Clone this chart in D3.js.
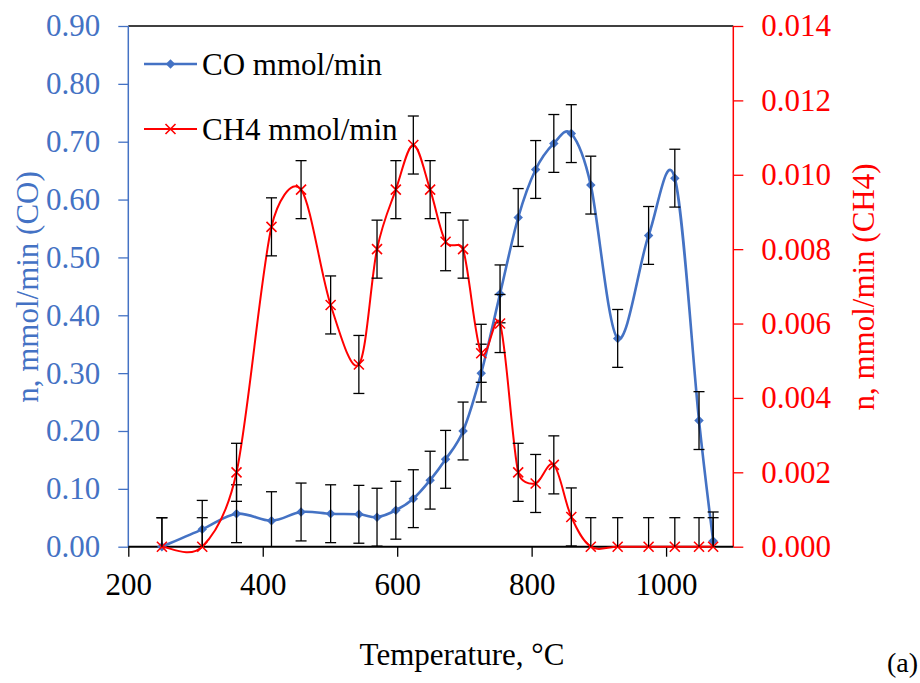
<!DOCTYPE html>
<meta charset="utf-8">
<style>
body { margin: 0; background: #fff; }
svg text { font-family: "Liberation Serif", "Times New Roman", Tinos, "DejaVu Serif", "Noto Serif", serif; }
</style>
<svg width="920" height="683"></svg>
<script src="https://d3js.org/d3.v7.min.js"></script>
<script>

// temperature, °C
var temps = [250, 310, 361, 413, 457, 501, 543, 570, 598, 624, 649, 672, 698,
             725, 753, 780, 806, 833, 859, 888, 928, 974, 1013, 1049, 1070];
// CO, mmol/min (left axis)
var co = [0.000, 0.030, 0.057, 0.045, 0.060, 0.057, 0.056, 0.051, 0.063, 0.083,
          0.115, 0.151, 0.200, 0.300, 0.437, 0.569, 0.652, 0.697, 0.714, 0.625,
          0.360, 0.538, 0.637, 0.218, 0.010];
// CH4, mmol/min (right axis)
var ch4 = [0.0000, 0.0000, 0.0020, 0.0086, 0.0096, 0.0065, 0.0049, 0.0080, 0.0096,
           0.0108, 0.0096, 0.0082, 0.0080, 0.0052, 0.0060, 0.0020, 0.0017, 0.0022,
           0.0008, 0.0000, 0.0000, 0.0000, 0.0000, 0.0000, 0.0000];
var coErr = 0.05;
var ch4Err = 0.00078;

var tempTicks = [200, 400, 600, 800, 1000];
var coTicks = [0, 0.1, 0.2, 0.3, 0.4, 0.5, 0.6, 0.7, 0.8, 0.9];
var ch4Ticks = [0, 0.002, 0.004, 0.006, 0.008, 0.010, 0.012, 0.014];

var blue = "#4472C4", red = "#FF0000";

var svg = d3.select("svg"),
    margin = {top: 26, right: 186.7, bottom: 136.3, left: 128.3},
    width = +svg.attr("width") - margin.left - margin.right,
    height = +svg.attr("height") - margin.top - margin.bottom;

var x = d3.scaleLinear().domain([200, 1100]).range([0, width]);
var yCO = d3.scaleLinear().domain([0, 0.9]).range([height, 0]);
var yCH4 = d3.scaleLinear().domain([0, 0.014]).range([height, 0]);

var g = svg.append("g")
    .attr("transform", "translate(" + margin.left + "," + margin.top + ")");

// frame top
g.append("line")
    .attr("x1", 0).attr("x2", width)
    .attr("y1", 0).attr("y2", 0)
    .attr("stroke", "#000").attr("stroke-width", 1.5);

// x axis
var xa = g.append("g")
    .attr("transform", "translate(0," + height + ")")
    .call(d3.axisBottom(x).tickValues(tempTicks).tickSize(10).tickPadding(16)
      .tickFormat(d3.format("d")));
xa.select(".domain").remove();
xa.selectAll(".tick line").attr("stroke", "#000").attr("stroke-width", 1.3);
xa.selectAll("text").attr("font-size", 31).attr("fill", "#000");

// left axis
var la = g.append("g")
    .call(d3.axisLeft(yCO).tickValues(coTicks).tickSize(10).tickPadding(18)
      .tickFormat(d3.format(".2f")));
la.select(".domain").remove();
la.selectAll(".tick line").attr("stroke", blue).attr("stroke-width", 1.3);
la.selectAll("text").attr("font-size", 31).attr("fill", blue);
g.append("line")
    .attr("x1", 0).attr("x2", 0).attr("y1", 0).attr("y2", height)
    .attr("stroke", blue).attr("stroke-width", 1.5);

// right axis
var ra = g.append("g")
    .attr("transform", "translate(" + width + ",0)")
    .call(d3.axisRight(yCH4).tickValues(ch4Ticks).tickSize(10).tickPadding(18)
      .tickFormat(d3.format(".3f")));
ra.select(".domain").remove();
ra.selectAll(".tick line").attr("stroke", red).attr("stroke-width", 1.3);
ra.selectAll("text").attr("font-size", 31).attr("fill", red);
g.append("line")
    .attr("x1", width).attr("x2", width).attr("y1", 0).attr("y2", height)
    .attr("stroke", red).attr("stroke-width", 1.5);

// zero line
g.append("line")
    .attr("x1", 0).attr("x2", width)
    .attr("y1", height).attr("y2", height)
    .attr("stroke", "#000").attr("stroke-width", 2);

var diamond = {
  draw: function(ctx, size) {
    var r = Math.sqrt(size) / 2;
    ctx.moveTo(0, -r); ctx.lineTo(r, 0); ctx.lineTo(0, r); ctx.lineTo(-r, 0); ctx.closePath();
  }
};
var cross = {
  draw: function(ctx, size) {
    var r = Math.sqrt(size) / 2;
    ctx.moveTo(-r, -r); ctx.lineTo(r, r); ctx.moveTo(-r, r); ctx.lineTo(r, -r);
  }
};

// smoothed line: catmull-rom style tangents (1/6 of neighbour chord),
// handle capped at half of the adjacent segment
function smoothPath(pts) {
  var p = d3.path(), n = pts.length;
  function dist(a, b) { return Math.hypot(b[0] - a[0], b[1] - a[1]); }
  function handle(i, j) {
    var a = pts[Math.max(0, i - 1)], b = pts[Math.min(n - 1, i + 1)],
        dx = b[0] - a[0], dy = b[1] - a[1], l = Math.hypot(dx, dy);
    if (!l) return [0, 0];
    var h = Math.min(l / 6, dist(pts[i], pts[j]) / 2);
    return [dx / l * h, dy / l * h];
  }
  p.moveTo(pts[0][0], pts[0][1]);
  for (var i = 0; i < n - 1; i++) {
    var a = pts[i], b = pts[i + 1],
        ha = handle(i, i + 1), hb = handle(i + 1, i);
    p.bezierCurveTo(a[0] + ha[0], a[1] + ha[1],
                    b[0] - hb[0], b[1] - hb[1],
                    b[0], b[1]);
  }
  return p.toString();
}

function errorBars(vals, err, y) {
  var eg = g.append("g").attr("stroke", "#000").attr("stroke-width", 1.3);
  vals.forEach(function(v, i) {
    var cx = x(temps[i]),
        top = y(v + err),
        bot = y(Math.max(0, v - err));
    eg.append("line").attr("x1", cx).attr("x2", cx).attr("y1", top).attr("y2", bot);
    eg.append("line").attr("x1", cx - 5.5).attr("x2", cx + 5.5).attr("y1", top).attr("y2", top);
    if (v - err > 0)
      eg.append("line").attr("x1", cx - 5.5).attr("x2", cx + 5.5).attr("y1", bot).attr("y2", bot);
  });
}

function series(vals, y, color, sw) {
  var pts = vals.map(function(d, i) { return [x(temps[i]), y(d)]; });
  g.append("path")
      .attr("fill", "none")
      .attr("stroke", color)
      .attr("stroke-width", sw)
      .attr("d", smoothPath(pts));
}

// CO
series(co, yCO, blue, 2.6);
g.append("g").selectAll("path")
  .data(co)
  .enter().append("path")
    .attr("transform", function(d, i) { return "translate(" + x(temps[i]) + "," + yCO(d) + ")"; })
    .attr("d", d3.symbol().type(diamond).size(90))
    .attr("fill", blue);
errorBars(co, coErr, yCO);

// CH4
series(ch4, yCH4, red, 2);
g.append("g").selectAll("path")
  .data(ch4)
  .enter().append("path")
    .attr("transform", function(d, i) { return "translate(" + x(temps[i]) + "," + yCH4(d) + ")"; })
    .attr("d", d3.symbol().type(cross).size(100))
    .attr("fill", "none")
    .attr("stroke", red)
    .attr("stroke-width", 1.6);
errorBars(ch4, ch4Err, yCH4);

// legend
var legend = [
  {label: "CO mmol/min", color: blue, sym: diamond, size: 90, sw: 2.6},
  {label: "CH4 mmol/min", color: red, sym: cross, size: 100, sw: 2}
];
var lg = svg.append("g").attr("transform", "translate(144,64)");
legend.forEach(function(d, i) {
  var row = lg.append("g").attr("transform", "translate(0," + (i * 65) + ")");
  row.append("line").attr("x1", 0).attr("x2", 53).attr("y1", 0).attr("y2", 0)
      .attr("stroke", d.color).attr("stroke-width", d.sw);
  var m = row.append("path").attr("transform", "translate(26.5,0)")
      .attr("d", d3.symbol().type(d.sym).size(d.size));
  if (d.sym === cross) m.attr("fill", "none").attr("stroke", d.color).attr("stroke-width", 1.6);
  else m.attr("fill", d.color);
  row.append("text").attr("x", 58).attr("y", 11)
      .attr("font-size", 31).attr("fill", "#000").text(d.label);
});

// axis titles
svg.append("text")
    .attr("x", 462).attr("y", 665)
    .attr("text-anchor", "middle").attr("font-size", 31).attr("fill", "#000")
    .text("Temperature, °C");
svg.append("text")
    .attr("transform", "translate(38,287) rotate(-90)")
    .attr("text-anchor", "middle").attr("font-size", 31).attr("fill", blue)
    .text("n, mmol/min (CO)");
svg.append("text")
    .attr("transform", "translate(874,287) rotate(-90)")
    .attr("text-anchor", "middle").attr("font-size", 31).attr("fill", red)
    .text("n, mmol/min (CH4)");
svg.append("text")
    .attr("x", 918).attr("y", 672)
    .attr("text-anchor", "end").attr("font-size", 28).attr("fill", "#000")
    .text("(a)");

</script>
